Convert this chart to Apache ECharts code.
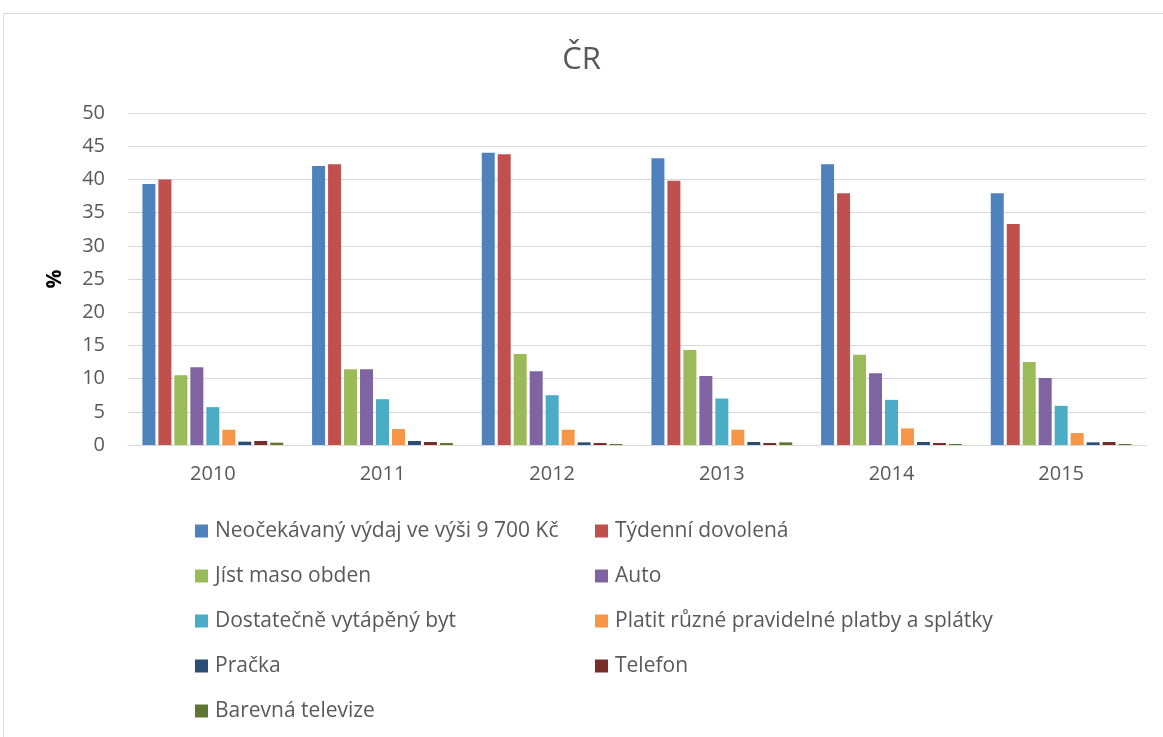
<!DOCTYPE html>
<html>
<head>
<meta charset="utf-8">
<script src="https://cdn.jsdelivr.net/npm/echarts@6/dist/echarts.min.js"></script>
<style>
  html, body { margin: 0; padding: 0; background: #fff; }
  #chart { width: 1163px; height: 737px; }
</style>
</head>
<body>
<div id="chart"></div>
<script>
var years = ['2010', '2011', '2012', '2013', '2014', '2015'];

var neocekavany = [39.3, 42.0, 44.0, 43.2, 42.3, 37.9];
var dovolena    = [40.0, 42.3, 43.8, 39.8, 37.9, 33.3];
var maso        = [10.5, 11.4, 13.7, 14.3, 13.6, 12.5];
var auto        = [11.7, 11.4, 11.1, 10.4, 10.8, 10.1];
var byt         = [5.7, 6.9, 7.5, 7.0, 6.8, 5.9];
var platby      = [2.3, 2.4, 2.3, 2.3, 2.5, 1.8];
var pracka      = [0.5, 0.6, 0.4, 0.45, 0.45, 0.4];
var telefon     = [0.6, 0.45, 0.3, 0.3, 0.3, 0.45];
var televize    = [0.35, 0.3, 0.15, 0.4, 0.15, 0.15];

var seriesNames = [
    'Neočekávaný výdaj ve výši 9 700 Kč',
    'Týdenní dovolená',
    'Jíst maso obden',
    'Auto',
    'Dostatečně vytápěný byt',
    'Platit různé pravidelné platby a splátky',
    'Pračka',
    'Telefon',
    'Barevná televize'
];
var seriesData = [neocekavany, dovolena, maso, auto, byt, platby, pracka, telefon, televize];
var colors = ['#4F81BD', '#C0504D', '#9BBB59', '#8064A2', '#4BACC6', '#F79646', '#2C4D75', '#772C2A', '#5F7530'];

var font = 'Open Sans';
var textColor = '#595959';

var myChart = echarts.init(document.getElementById('chart'));

var series = seriesNames.map(function (name, i) {
    return {
        name: name,
        type: 'bar',
        data: seriesData[i],
        barGap: '23%',
        barCategoryGap: '17%',
        itemStyle: { color: colors[i] }
    };
});

var legendStyle = {
    orient: 'vertical',
    top: 517,
    padding: 0,
    itemWidth: 13,
    itemHeight: 13,
    itemGap: 17,
    icon: 'rect',
    textStyle: { fontFamily: font, fontSize: 21, color: textColor, lineHeight: 28, padding: [0, 0, 0, 2] }
};

var option = {
    animation: false,
    color: colors,
    title: {
        text: 'ČR',
        left: 'center',
        top: 40,
        textStyle: { fontFamily: font, fontSize: 31, fontWeight: 'normal', color: textColor }
    },
    graphic: [{
        type: 'rect',
        shape: { x: 3.5, y: 13.5, width: 1200, height: 800 },
        style: { fill: 'none', stroke: '#d9d9d9', lineWidth: 1 },
        z: -1
    }],
    legend: [
        Object.assign({}, legendStyle, {
            left: 195,
            data: [seriesNames[0], seriesNames[2], seriesNames[4], seriesNames[6], seriesNames[8]]
        }),
        Object.assign({}, legendStyle, {
            left: 595,
            data: [seriesNames[1], seriesNames[3], seriesNames[5], seriesNames[7]]
        })
    ],
    grid: {
        left: 128,
        right: 17,
        top: 113,
        bottom: 292
    },
    xAxis: {
        type: 'category',
        data: years,
        axisLine: { lineStyle: { color: '#d9d9d9', width: 1 } },
        axisTick: { show: false },
        axisLabel: { fontFamily: font, fontSize: 20, color: textColor, margin: 19 }
    },
    yAxis: {
        type: 'value',
        min: 0,
        max: 50,
        interval: 5,
        name: '%',
        nameLocation: 'middle',
        nameGap: 62,
        nameTextStyle: { fontFamily: font, fontSize: 21, fontWeight: 'bold', color: '#000' },
        axisLine: { show: false },
        axisTick: { show: false },
        axisLabel: { fontFamily: font, fontSize: 20, color: textColor, margin: 23 },
        splitLine: { lineStyle: { color: '#d9d9d9', width: 1 } }
    },
    series: series
};

myChart.setOption(option);
</script>
</body>
</html>
